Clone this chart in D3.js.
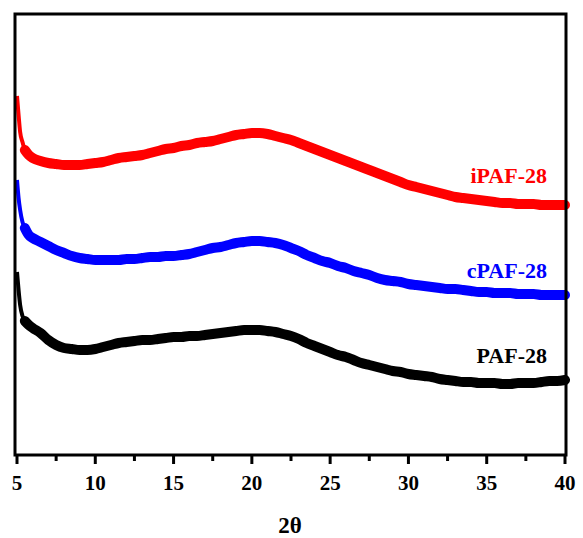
<!DOCTYPE html>
<html>
<head>
<meta charset="utf-8">
<script src="https://cdn.jsdelivr.net/npm/d3@7"></script>
<style>
  html, body { margin: 0; padding: 0; background: #fff; }
  svg { display: block; }
</style>
</head>
<body>
<svg id="chart" width="583" height="538"></svg>
<script>
// Diffraction angle (2θ, degrees); dense sampling near the low-angle rise
const twoTheta = [
  5.0, 5.1, 5.2, 5.35, 5.5, 5.75, 6.0, 6.5, 7.0, 7.5, 8.0, 8.5, 9.0, 9.5,
  10, 10.5, 11, 11.5, 12, 12.5, 13, 13.5, 14, 14.5, 15, 15.5, 16, 16.5,
  17, 17.5, 18, 18.5, 19, 19.5, 20, 20.5, 21, 21.5, 22, 22.5, 23, 23.5,
  24, 24.5, 25, 25.5, 26, 26.5, 27, 27.5, 28, 28.5, 29, 29.5, 30, 30.5,
  31, 31.5, 32, 32.5, 33, 33.5, 34, 34.5, 35, 35.5, 36, 36.5, 37, 37.5,
  38, 38.5, 39, 39.5, 40
];

// Stacked intensities (a.u., offset for display)
const iPAF28 = [
  359, 340, 323, 313, 305, 300, 297, 294, 292, 291, 290, 290, 290, 291,
  292, 293, 295, 297, 298, 299, 300, 302, 304, 306, 307, 309, 310, 312,
  313, 314, 316, 318, 320, 321, 322, 322, 321, 319, 317, 315, 312, 309,
  306, 303, 300, 297, 294, 291, 288, 285, 282, 279, 276, 273, 270, 268,
  266, 264, 262, 260, 258, 257, 256, 255, 254, 253, 252, 252, 251, 251,
  251, 250, 250, 250, 250
];

const cPAF28 = [
  275, 257, 245, 233, 227, 220, 217, 213, 209, 205, 202, 199, 197, 196,
  195, 195, 195, 195, 196, 196, 197, 198, 198, 199, 199, 200, 201, 203,
  205, 207, 208, 210, 212, 213, 214, 214, 213, 212, 210, 207, 204, 200,
  197, 194, 192, 189, 187, 184, 182, 180, 177, 175, 174, 173, 171, 170,
  169, 168, 167, 166, 166, 165, 164, 163, 163, 162, 162, 162, 161, 161,
  161, 160, 160, 160, 160
];

const PAF28 = [
  183, 165, 150, 139, 134, 130, 127, 122, 115, 110, 107, 106, 105, 105,
  106, 108, 110, 112, 113, 114, 115, 115, 116, 117, 118, 118, 119, 119,
  120, 121, 122, 123, 124, 125, 125, 125, 124, 123, 121, 119, 116, 112,
  109, 106, 103, 100, 98, 95, 92, 90, 88, 86, 84, 83, 81, 80,
  79, 78, 76, 75, 74, 73, 73, 72, 72, 72, 71, 71, 72, 72,
  72, 73, 74, 74, 75
];

const seriesNames = ["iPAF-28", "cPAF-28", "PAF-28"];
const seriesColors = ["#ff0000", "#0000ff", "#000000"];
const seriesValues = [iPAF28, cPAF28, PAF28];
const xTicks = [5, 10, 15, 20, 25, 30, 35, 40];
const xMinorTicks = [7.5, 12.5, 17.5, 22.5, 27.5, 32.5, 37.5];

const svg = d3.select("#chart");
const serif = "'Liberation Serif', 'Times New Roman', serif";

const box = { left: 15, right: 566, top: 14, bottom: 455 };

const x = d3.scaleLinear().domain([5, 40]).range([17, 565]);
const y = d3.scaleLinear().domain([0, 441]).range([box.bottom, box.top]);

// Patterns: a narrow stroke for the sharp low-angle rise,
// a wide stroke for the broad amorphous hump
const pattern = d3.line()
  .x(d => x(d[0]))
  .y(d => y(d[1]))
  .curve(d3.curveMonotoneX);

seriesValues.forEach((vals, k) => {
  const pts = vals.map((v, i) => [twoTheta[i], v]);
  svg.append("path")
    .attr("d", pattern(pts.slice(0, 6)))
    .attr("fill", "none")
    .attr("stroke", seriesColors[k])
    .attr("stroke-width", 4)
    .attr("stroke-linejoin", "round");
  svg.append("path")
    .attr("d", pattern(pts.slice(4)))
    .attr("fill", "none")
    .attr("stroke", seriesColors[k])
    .attr("stroke-width", 10)
    .attr("stroke-linejoin", "round")
    .attr("stroke-linecap", "round");
});

// Frame around the plotting area
svg.append("rect")
  .attr("x", box.left)
  .attr("y", box.top)
  .attr("width", box.right - box.left)
  .attr("height", box.bottom - box.top)
  .attr("fill", "none")
  .attr("stroke", "#000")
  .attr("stroke-width", 3);

// Outward ticks on the bottom edge
const tickMarks = xTicks.map(v => ({ v, len: 9 }))
  .concat(xMinorTicks.map(v => ({ v, len: 6 })));

svg.append("g").selectAll("line")
  .data(tickMarks)
  .join("line")
  .attr("x1", d => x(d.v))
  .attr("x2", d => x(d.v))
  .attr("y1", box.bottom)
  .attr("y2", d => box.bottom + d.len)
  .attr("stroke", "#000")
  .attr("stroke-width", 3);

// Tick labels
svg.append("g").selectAll("text")
  .data(xTicks)
  .join("text")
  .attr("x", d => x(d))
  .attr("y", 490)
  .attr("text-anchor", "middle")
  .attr("font-family", serif)
  .attr("font-weight", "bold")
  .attr("font-size", 21)
  .attr("fill", "#000")
  .text(d => d3.format("d")(d));

// Axis title
svg.append("text")
  .attr("x", 290)
  .attr("y", 533)
  .attr("text-anchor", "middle")
  .attr("font-family", serif)
  .attr("font-weight", "bold")
  .attr("font-size", 23)
  .text("2θ");

// Series labels
const labelBaselines = [183, 278, 363];
seriesNames.forEach((name, k) => {
  svg.append("text")
    .attr("x", 547)
    .attr("y", labelBaselines[k])
    .attr("text-anchor", "end")
    .attr("font-family", serif)
    .attr("font-weight", "bold")
    .attr("font-size", 22)
    .attr("fill", seriesColors[k])
    .text(name);
});
</script>
</body>
</html>
